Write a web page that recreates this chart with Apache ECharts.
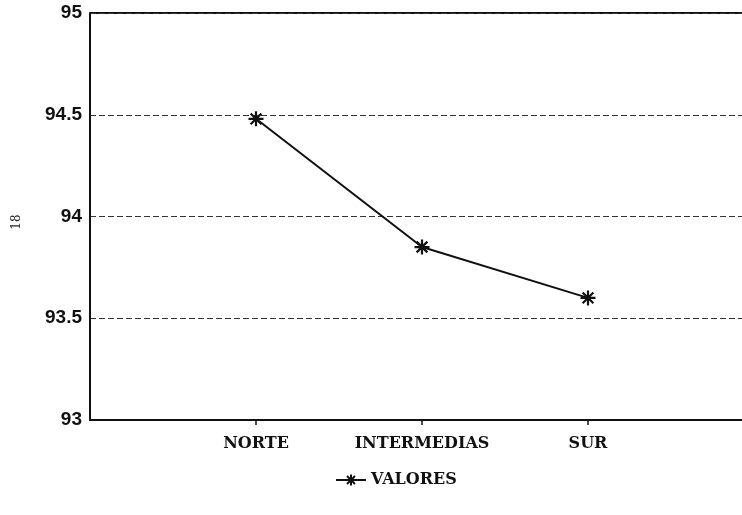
<!DOCTYPE html>
<html>
<head>
<meta charset="utf-8">
<script src="https://cdn.jsdelivr.net/npm/echarts@6/dist/echarts.min.js"></script>
<style>html,body{margin:0;padding:0;background:#fff;}#c{width:742px;height:515px;}</style>
</head>
<body>
<div id="c"></div>
<script>
var categories = ['', 'NORTE', 'INTERMEDIAS', 'SUR', ''];
var valores = [null, 94.48, 93.85, 93.6, null];
var yTicks = [93, 93.5, 94, 94.5, 95];
var seriesName = 'VALORES';

var star = 'path://M0,-6L0,6M-6,0L6,0M-4.3,-4.3L4.3,4.3M-4.3,4.3L4.3,-4.3';
var chart = echarts.init(document.getElementById('c'), null, {renderer: 'canvas'});
chart.setOption({
  animation: false,
  backgroundColor: '#fff',
  grid: {left: 90, top: 13, width: 664, height: 407, containLabel: false, outerBoundsMode: 'none'},
  xAxis: {
    type: 'category', data: categories, boundaryGap: false,
    axisLine: {lineStyle: {color: '#111', width: 2}},
    axisTick: {show: true, length: 5, inside: false, lineStyle: {color: '#111', width: 1.5},
      interval: function(i){ return i > 0 && i < categories.length - 1; }},
    axisLabel: {color: '#111', fontFamily: 'DejaVu Serif', fontWeight: 'bold', fontSize: 16, margin: 16,
      interval: 0},
    splitLine: {show: false}
  },
  yAxis: {
    type: 'value', min: 93, max: 95, interval: 0.5,
    axisLine: {show: true, lineStyle: {color: '#111', width: 2}},
    axisTick: {show: false},
    axisLabel: {color: '#111', fontFamily: 'Liberation Sans', fontWeight: 'bold', fontSize: 19, margin: 8,
      formatter: function(v){ return yTicks.indexOf(v) >= 0 ? String(v) : ''; }},
    splitLine: {show: true, lineStyle: {color: '#333', type: [6, 3], width: 1}}
  },
  legend: {
    top: 467, left: 330, data: [seriesName], itemWidth: 30, itemHeight: 14, itemGap: 6,
    textStyle: {fontFamily: 'DejaVu Serif', fontWeight: 'bold', fontSize: 16, color: '#111'}
  },
  graphic: [
    {type: 'line', shape: {x1: 90, y1: 13, x2: 742, y2: 13}, style: {stroke: '#111', lineWidth: 2}},
    {type: 'text', x: 17, y: 222, rotation: Math.PI / 2, style: {text: '18', fontFamily: 'DejaVu Serif', fontSize: 12, fill: '#222', textAlign: 'center', textVerticalAlign: 'middle'}}
  ],
  series: [{
    name: seriesName, type: 'line', data: valores, connectNulls: false,
    symbol: star, symbolSize: 15, showAllSymbol: true,
    lineStyle: {color: '#111', width: 2},
    itemStyle: {color: 'transparent', borderColor: '#111', borderWidth: 2.2}
  }]
});
</script>
</body>
</html>
